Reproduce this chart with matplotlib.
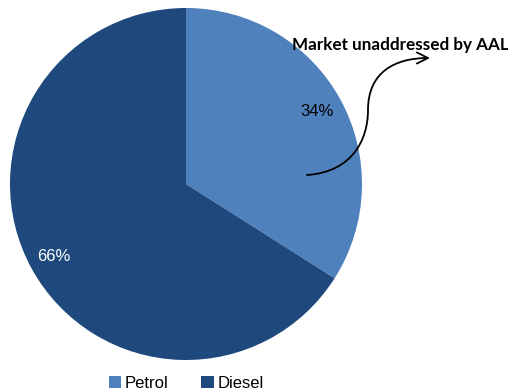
import matplotlib
matplotlib.use("Agg")
import matplotlib.pyplot as plt
import numpy as np
from matplotlib.path import Path
from matplotlib.patches import FancyArrowPatch

categories = ["Petrol", "Diesel"]
values = [34, 66]
colors = ["#4F81BD", "#1F497D"]
label_colors = ["#000000", "#FFFFFF"]
label_dist = [0.85, 0.86]
title = "Market unaddressed by AAL"

plt.rcParams['font.family'] = ['Liberation Sans', 'DejaVu Sans']
W, H = 508, 390
fig = plt.figure(figsize=(W / 100, H / 100), dpi=100)

cx, cy, r = 186, 184, 176
ax = fig.add_axes([(cx - r) / W, (H - cy - r) / H, 2 * r / W, 2 * r / H])
wedges, texts, autotexts = ax.pie(values, colors=colors, startangle=90, counterclock=False,
                                  autopct=lambda p: f"{p:.0f}%", pctdistance=0.75,
                                  radius=1, wedgeprops=dict(linewidth=0))
for w, t, c, d in zip(wedges, autotexts, label_colors, label_dist):
    ang = np.deg2rad((w.theta1 + w.theta2) / 2)
    t.set_position((d * np.cos(ang), d * np.sin(ang)))
    t.set_color(c)
    t.set_fontsize(12)
ax.set_xlim(-1, 1)
ax.set_ylim(-1, 1)
ax.set_aspect('equal')
ax.axis('off')

# overlay in pixel coords
ov = fig.add_axes([0, 0, 1, 1])
ov.set_xlim(0, W)
ov.set_ylim(H, 0)
ov.axis('off')
ov.text(292, 50, title, ha='left', va='baseline', fontsize=12.3, fontweight='bold',
        family=['Lato', 'DejaVu Sans'])
verts = [(307, 175), (352, 172), (368, 140), (368, 110),
         (368, 72), (395, 58), (430, 58)]
codes = [Path.MOVETO, Path.CURVE4, Path.CURVE4, Path.CURVE4,
         Path.CURVE4, Path.CURVE4, Path.CURVE4]
arrow = FancyArrowPatch(path=Path(verts, codes), arrowstyle='->,head_length=8,head_width=4',
                        color='black', lw=1.3, transform=ov.transData)
ov.add_patch(arrow)

fig.legend(wedges, categories, loc='center', bbox_to_anchor=(186 / W, 1 - 383 / H),
           ncol=2, frameon=False, fontsize=12, handlelength=0.75, handleheight=0.75,
           handletextpad=0.2, columnspacing=2.0, borderpad=0, borderaxespad=0)

fig.savefig("out.png", dpi=100)
